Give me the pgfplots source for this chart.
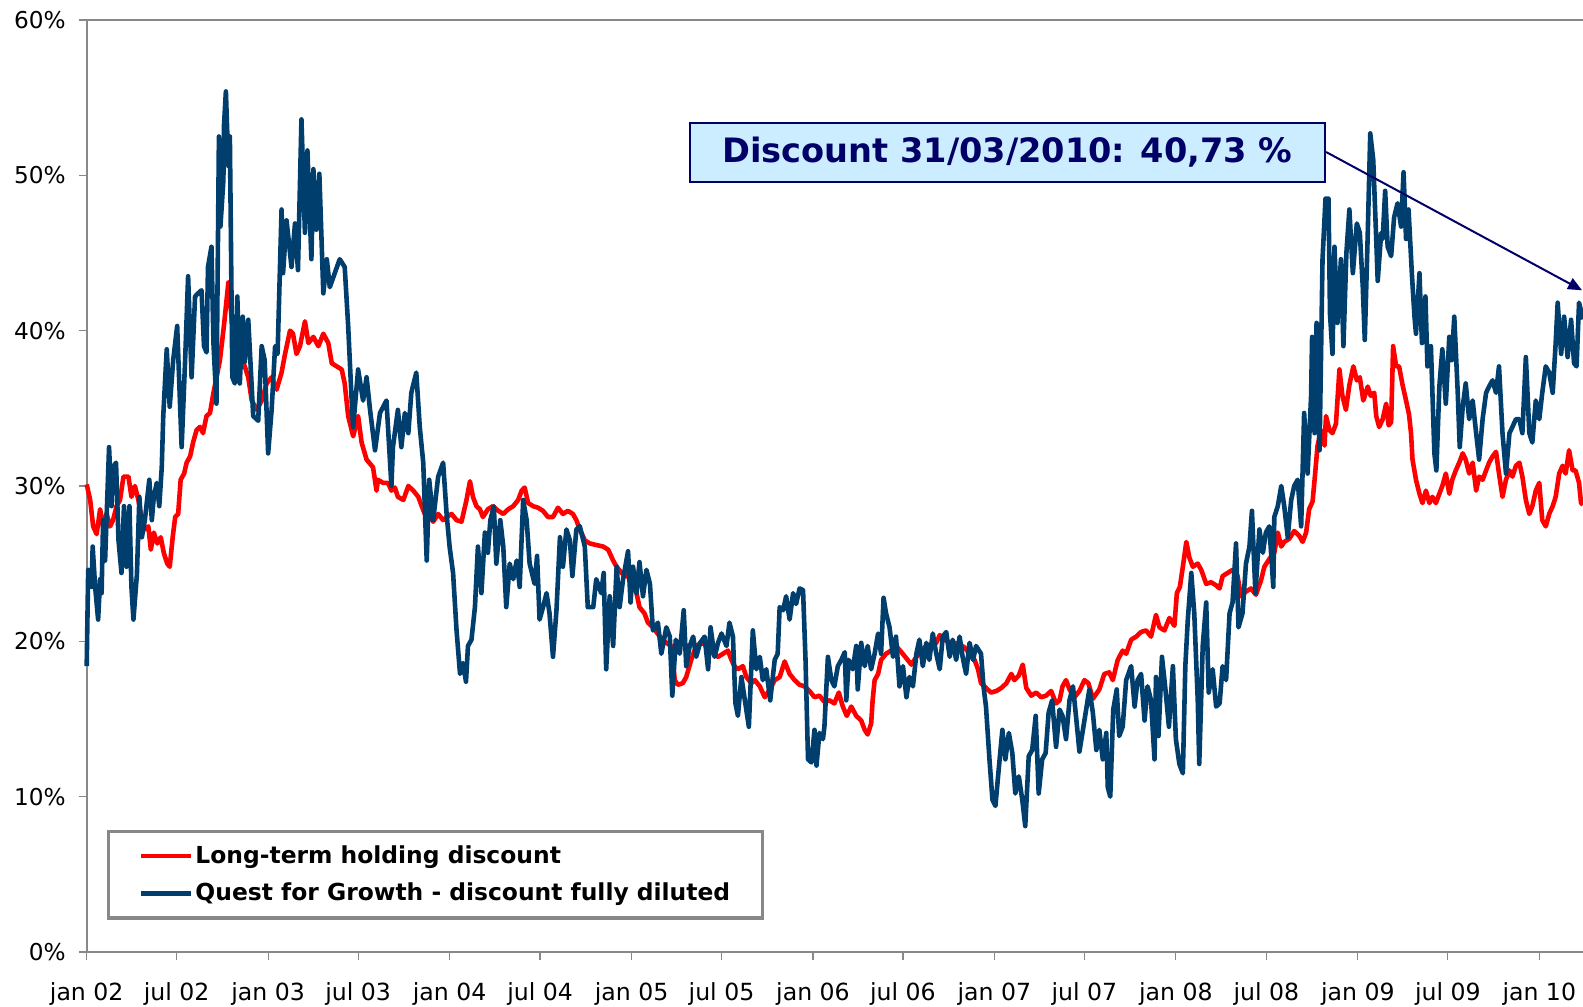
\documentclass[border=0pt]{standalone}
\usepackage{pgfplots}
\pgfplotsset{compat=1.18}
\usepackage{fontspec}
\setmainfont{DejaVu Sans}
\usetikzlibrary{arrows.meta}
\definecolor{qfgblue}{RGB}{0,62,110}
\definecolor{axgray}{RGB}{136,136,136}
\definecolor{navyann}{RGB}{0,0,102}
\definecolor{boxfill}{RGB}{204,236,255}
\begin{document}
\begin{tikzpicture}
\useasboundingbox (-43.35pt,-27.5pt) rectangle (748.2pt,476pt);
\begin{axis}[
  scale only axis, width=748.2pt, height=466pt,
  xmin=0, xmax=3010, ymin=0, ymax=60,
  axis lines=left, axis line style={-, draw=axgray, line width=1pt},
  clip=false,
  xtick={0,181,365,546,730,912,1096,1277,1461,1642,1826,2007,2191,2373,2557,2738,2922},
  xticklabels={jan 02,jul 02,jan 03,jul 03,jan 04,jul 04,jan 05,jul 05,jan 06,jul 06,jan 07,jul 07,jan 08,jul 08,jan 09,jul 09,jan 10},
  ytick={0,10,20,30,40,50,60},
  yticklabels={0\%,10\%,20\%,30\%,40\%,50\%,60\%},
  tick style={draw=axgray, line width=0.6pt},
  major tick length=4pt, tick align=outside,
  xticklabel style={font=\fontsize{11.8}{14}\selectfont, text=black, yshift=-8pt},
  yticklabel style={font=\fontsize{11.6}{14}\selectfont, text=black, xshift=-3pt},
  legend style={at={(0.01377,0.1309)}, anchor=north west, draw=axgray, line width=1.6pt,
    fill=white, font=\bfseries\fontsize{11.7}{14}\selectfont,
    inner xsep=15pt, inner ysep=6pt, row sep=6.4pt,
    nodes={inner sep=1pt}, cells={anchor=west}},
  legend image code/.code={\draw[#1] (0pt,0pt) -- (25pt,0pt);},
]
\draw[axgray, line width=1pt] (rel axis cs:0,1) -- (rel axis cs:1,1);

\addplot[red, line width=2.3pt, line join=round] coordinates {
(0,30.1)(7,29.1)(13,27.4)(20,26.9)(27,28.5)(33,27.4)(40,28.2)(47,27.4)(53,27.8)(60,28.7)(67,29.1)(74,30.6)(84,30.6)(90,29.3)(97,30.0)(104,29.1)(111,27.8)(117,27.2)(124,27.4)(129,25.9)(135,27.0)(142,26.3)(149,26.7)(155,25.7)(162,25.0)(167,24.8)(173,26.7)(178,28.0)(184,28.2)(189,30.4)(196,30.8)(201,31.5)(208,31.9)(214,32.8)(221,33.6)(228,33.8)(234,33.4)(241,34.5)(248,34.7)(255,36.0)(268,38.1)(276,40.3)(285,43.1)(292,40.7)(302,39.0)(308,38.5)(318,37.7)(325,37.0)(332,35.5)(342,34.9)(352,35.5)(362,36.6)(372,37.0)(382,36.2)(392,37.3)(399,38.5)(409,40.0)(415,39.8)(422,38.5)(429,39.0)(439,40.6)(446,39.2)(456,39.6)(466,39.0)(476,39.8)(486,39.2)(493,37.9)(503,37.7)(513,37.5)(519,36.6)(526,34.5)(536,33.2)(546,34.5)(553,32.8)(563,31.7)(576,31.2)(583,29.7)(586,30.4)(596,30.2)(606,30.2)(613,29.7)(620,29.9)(626,29.3)(637,29.1)(647,30.0)(657,29.7)(667,29.3)(674,28.7)(680,28.2)(690,28.0)(697,27.7)(707,28.2)(717,27.8)(724,28.0)(734,28.2)(744,27.8)(754,27.7)(764,29.1)(771,30.3)(777,29.3)(784,28.7)(791,28.5)(797,28.0)(807,28.5)(817,28.7)(828,28.4)(838,28.2)(848,28.5)(858,28.7)(868,29.1)(875,29.7)(881,29.9)(888,28.9)(898,28.7)(908,28.6)(918,28.4)(928,28.0)(938,28.0)(948,28.6)(958,28.2)(968,28.4)(978,28.2)(985,27.8)(992,27.2)
(1002,26.5)(1012,26.3)(1025,26.2)(1039,26.1)(1049,25.9)(1059,25.2)(1066,24.8)(1076,24.4)(1086,24.2)(1096,24.0)(1106,23.1)(1112,22.2)(1122,21.8)(1129,21.2)(1139,20.9)(1153,20.3)(1166,19.9)(1176,19.7)(1183,17.5)(1189,17.2)(1199,17.3)(1206,17.7)(1216,18.8)(1226,19.7)(1236,19.9)(1250,19.7)(1260,19.2)(1270,19.0)(1280,19.2)(1290,19.4)(1297,18.8)(1303,18.4)(1310,18.2)(1320,18.4)(1327,17.7)(1337,17.3)(1344,17.5)(1354,17.1)(1364,16.4)(1374,16.9)(1384,17.5)(1394,17.7)(1404,18.7)(1414,17.9)(1424,17.5)(1434,17.2)(1444,17.1)(1454,16.8)(1464,16.4)(1474,16.5)(1484,16.1)(1494,16.2)(1504,16.0)(1513,16.7)(1521,15.8)(1529,15.2)(1538,15.8)(1548,15.2)(1558,14.9)(1565,14.3)(1571,14.0)(1578,14.7)(1581,16.2)(1585,17.5)(1592,17.9)(1598,18.8)(1608,19.2)(1618,19.4)(1628,19.7)(1639,19.3)(1649,18.9)(1659,18.5)(1669,19.0)(1679,19.4)(1689,19.7)(1699,19.8)(1709,19.9)(1716,20.4)(1726,20.1)(1736,19.9)(1746,19.9)(1756,19.8)(1766,19.6)(1776,19.2)(1786,18.8)(1793,18.2)(1799,17.3)(1809,17.0)(1819,16.7)(1830,16.8)(1840,17.0)(1850,17.3)(1860,17.9)(1866,17.5)(1875,17.8)(1883,18.5)(1890,17.0)(1900,16.5)(1910,16.7)(1920,16.4)(1930,16.5)(1940,16.8)(1950,16.0)(1957,16.2)(1963,17.1)(1970,17.5)(1977,16.9)(1987,16.4)(1997,16.8)
(2007,17.5)(2015,17.3)(2024,16.3)(2037,16.9)(2047,17.9)(2057,18.0)(2064,17.5)(2074,18.8)(2084,19.4)(2091,19.2)(2101,20.1)(2111,20.3)(2121,20.6)(2131,20.7)(2141,20.3)(2151,21.7)(2158,20.9)(2168,20.7)(2178,21.5)(2188,21.0)(2193,23.1)(2199,23.5)(2205,24.8)(2212,26.4)(2218,25.4)(2225,24.8)(2235,25.0)(2242,24.6)(2252,23.7)(2262,23.8)(2272,23.6)(2279,23.4)(2285,24.2)(2295,24.4)(2305,24.6)(2315,24.2)(2322,22.9)(2332,23.2)(2342,23.4)(2352,23.0)(2362,23.9)(2369,24.8)(2379,25.3)(2389,25.7)(2396,27.0)(2403,26.1)(2409,26.4)(2419,26.6)(2429,27.1)(2439,26.8)(2446,26.4)(2453,27.0)(2459,28.5)(2466,29.0)(2470,30.4)(2473,31.5)(2476,32.6)(2483,33.6)(2490,32.6)(2493,34.5)(2500,33.6)(2506,33.4)(2513,34.0)(2520,37.5)(2526,35.8)(2533,34.9)(2540,36.5)(2548,37.7)(2555,36.8)(2561,37.0)(2568,35.5)(2577,36.4)(2583,35.8)(2590,36.0)(2594,34.5)(2600,33.8)(2607,34.3)(2614,35.3)(2619,33.9)(2624,34.1)(2628,39.0)(2634,37.7)(2640,37.7)(2647,36.5)(2654,35.5)(2660,34.6)(2664,33.4)(2667,31.7)(2674,30.4)(2681,29.5)(2687,28.9)(2694,29.7)(2701,28.9)(2707,29.3)(2714,28.9)(2721,29.5)(2727,30.0)(2734,30.8)(2741,29.5)(2747,30.4)(2754,31.0)(2761,31.5)(2768,32.1)(2774,31.7)(2781,30.8)(2788,31.5)(2795,29.7)(2801,30.6)(2808,30.4)(2815,31.0)(2821,31.5)(2828,31.9)(2835,32.2)(2841,30.8)(2848,29.3)(2855,30.4)(2862,31.0)(2868,30.6)(2875,31.3)(2882,31.5)(2888,30.6)(2895,29.1)(2902,28.2)(2908,28.7)(2915,29.7)(2922,30.2)(2928,27.8)(2935,27.4)(2942,28.2)(2949,28.7)(2955,29.3)(2962,30.8)(2969,31.3)(2975,30.8)(2982,32.3)(2989,31.0)(2995,31.0)(3002,30.2)(3006,28.9)(3010,28.8)
};
\addlegendentry{Long-term holding discount}

\addplot[qfgblue, line width=2.3pt, line join=round] coordinates {
(0,18.4)(3,24.6)(10,23.5)(12,26.1)(17,23.5)(23,21.4)(27,24.0)(30,23.1)(33,27.8)(37,25.2)(45,32.5)(50,28.7)(53,31.2)(59,31.5)(64,26.5)(70,24.4)(75,28.7)(80,24.8)(86,28.7)(90,23.5)(94,21.4)(101,24.3)(106,29.3)(111,26.7)(117,27.8)(126,30.4)(131,27.8)(135,29.3)(141,30.2)(146,28.7)(151,31.2)(154,34.5)
(161,38.8)(167,35.1)(174,38.1)(182,40.3)(191,32.5)(198,38.1)(204,43.5)(211,37.0)(218,42.2)(224,42.4)(231,42.6)(236,39.0)(241,38.6)(244,44.1)(251,45.4)(255,39.2)(261,35.3)(266,52.5)(269,46.7)(275,49.7)(276,53.1)(280,55.4)(285,50.6)(288,52.5)(293,37.0)(298,36.6)(303,42.2)(308,36.6)(314,40.9)(318,38.0)(325,40.7)(335,34.5)(345,34.2)(352,39.0)(358,38.1)(365,32.1)(372,34.9)(379,39.0)(384,38.5)(392,47.8)(395,43.7)(402,47.1)(412,44.1)(419,46.9)(425,43.9)(432,53.6)(439,46.3)(444,51.6)(452,44.6)(456,50.4)(462,46.5)(468,50.1)(476,42.4)(483,44.6)(489,42.8)(499,43.7)(509,44.6)(519,44.1)(526,40.3)(533,35.5)(536,33.8)(546,37.5)(556,35.5)(563,37.0)(570,34.9)(580,32.3)(590,34.7)(603,35.5)(613,30.0)
(616,32.5)(626,34.9)(633,32.5)(640,34.7)(647,33.4)(653,36.0)(663,37.3)(670,33.8)(677,31.5)(684,25.2)(689,30.4)(697,27.8)(707,30.6)(717,31.5)(724,28.2)(730,26.1)(737,24.4)(744,20.7)(751,17.9)(757,18.6)(763,17.4)(767,19.7)(774,20.1)(781,22.2)(787,26.1)(794,23.1)(801,27.0)(807,25.7)(812,27.8)(819,28.7)(824,25.0)(832,27.8)(838,26.1)(844,22.2)(851,25.0)(858,24.0)(865,25.2)(871,23.5)(878,29.1)(885,27.8)(891,25.0)(901,23.7)(906,25.5)(911,21.4)(918,22.2)(925,23.1)(931,21.8)(938,19.0)(945,22.0)(952,26.7)(958,24.8)(965,27.2)(972,26.5)(977,24.2)(985,27.2)(992,27.4)
(1002,26.1)(1008,22.2)(1019,22.2)(1025,24.0)(1035,23.1)(1040,24.4)(1045,18.2)(1052,22.9)(1059,19.7)(1066,24.8)(1072,22.2)(1079,24.0)(1089,25.8)(1094,22.5)(1099,24.8)(1106,23.1)(1112,25.1)(1119,22.9)(1126,24.6)(1133,23.7)(1139,20.7)(1149,21.2)(1156,19.2)(1166,20.9)(1173,20.3)(1178,16.5)(1185,20.1)(1193,19.2)(1201,22.0)(1206,18.4)(1213,19.7)(1220,20.3)(1226,19.0)(1234,19.9)(1243,20.3)(1250,18.2)(1255,20.9)(1263,19.0)(1270,19.9)(1277,20.5)(1287,19.7)(1293,21.2)(1300,20.3)(1305,16.0)(1310,15.2)(1317,17.7)(1324,16.2)(1332,14.5)
(1340,20.7)(1347,18.2)(1354,19.0)(1360,17.5)(1367,18.2)(1375,16.2)(1384,18.8)(1390,19.2)(1394,22.2)(1401,22.0)(1407,22.9)(1414,21.4)(1421,23.1)(1427,22.4)(1434,23.4)(1441,23.3)(1446,18.8)(1451,12.4)(1458,12.2)(1464,14.3)(1468,12.0)(1474,14.1)(1481,13.7)(1484,14.5)(1491,19.0)(1498,17.5)(1504,17.1)(1511,18.4)(1518,18.8)(1525,19.3)(1528,16.2)(1533,18.8)(1541,18.2)(1548,19.7)(1551,16.9)(1558,19.9)(1565,18.4)(1571,19.7)(1578,18.2)(1585,19.2)(1592,20.5)(1598,19.2)(1603,22.8)(1608,21.8)(1615,20.9)(1622,19.0)(1628,20.3)(1635,17.1)(1642,18.4)(1649,16.4)(1655,17.7)(1662,17.1)(1669,19.2)(1675,20.1)(1682,18.4)(1689,19.9)(1695,18.8)(1702,20.5)(1709,19.2)(1716,18.2)(1722,20.3)(1729,20.6)(1736,19.0)(1742,20.1)(1749,18.8)(1756,20.3)(1762,19.0)(1769,17.9)(1776,19.9)(1783,18.8)(1789,19.7)(1799,19.2)(1804,17.1)(1809,15.8)(1816,12.4)(1822,9.8)(1828,9.4)(1835,11.9)(1842,14.3)(1848,12.4)(1855,14.1)(1862,12.8)(1868,10.2)(1875,11.3)(1882,9.8)(1888,8.1)(1895,12.6)(1902,13.0)(1909,15.2)(1915,10.2)(1922,12.4)(1929,12.8)(1935,15.4)(1942,16.2)(1950,13.2)(1957,15.6)(1963,15.2)(1970,13.7)(1977,16.2)(1984,17.1)(1990,15.2)(1997,12.9)
(2017,16.9)(2024,15.4)(2031,13.0)(2037,14.3)(2044,12.4)(2051,14.1)(2054,10.6)(2059,10.0)(2065,15.6)(2072,16.9)(2077,13.9)(2084,14.5)(2091,17.5)(2101,18.4)(2108,15.8)(2114,17.5)(2121,17.9)(2128,14.9)(2134,17.1)(2141,16.2)(2148,12.4)(2151,17.7)(2156,13.9)(2163,19.0)(2170,16.9)(2177,14.5)(2185,18.4)(2191,13.7)(2198,12.1)(2205,11.5)(2210,18.4)(2215,21.4)(2222,24.4)(2228,21.8)(2235,16.2)(2238,12.1)(2245,19.7)(2252,22.5)(2257,16.7)(2265,18.2)(2272,15.8)(2279,16.0)(2285,18.4)(2292,17.5)(2299,21.8)(2305,22.5)(2312,26.3)(2317,20.9)(2325,21.8)(2332,25.0)(2339,26.1)(2344,28.4)(2351,23.1)(2359,27.2)(2366,25.7)(2372,27.0)(2379,27.4)(2387,23.5)(2389,28.0)(2396,28.7)(2403,30.0)(2409,28.7)(2416,26.7)(2423,29.1)(2429,30.0)(2436,30.4)(2443,27.4)(2449,34.7)(2456,30.8)(2463,35.8)
(2465,39.6)(2470,33.4)(2474,40.5)(2480,32.3)(2486,44.6)(2492,48.5)(2498,48.5)(2501,41.1)(2506,38.5)(2510,45.4)(2516,40.5)(2523,44.6)(2528,39.0)(2534,45.0)(2540,47.8)(2547,43.7)(2555,46.9)(2561,46.3)(2567,42.8)(2571,39.4)(2577,46.3)(2582,52.7)(2588,51.0)(2594,45.9)(2597,43.2)(2604,46.3)(2607,45.9)(2612,49.0)(2617,45.4)(2624,44.8)(2630,47.3)(2637,48.2)(2644,46.7)(2649,50.2)(2654,45.9)(2659,47.8)(2666,43.5)(2671,40.9)(2674,39.8)(2681,43.7)(2686,39.2)(2693,42.2)(2697,37.7)(2704,39.0)(2711,32.1)(2715,31.0)(2721,36.4)(2727,38.8)(2734,35.3)(2741,39.6)(2746,38.1)(2751,40.9)(2758,36.0)(2762,32.5)(2768,35.1)(2774,36.6)(2781,34.3)(2788,35.5)(2795,33.4)(2801,31.7)(2808,34.3)(2815,36.0)(2821,36.4)(2828,36.8)(2835,36.0)(2841,37.7)(2848,33.4)(2855,30.8)(2862,33.4)(2868,33.8)(2875,34.3)(2882,34.3)(2888,33.4)(2895,38.3)(2902,33.4)(2908,32.8)(2915,35.5)(2922,34.3)(2928,36.0)(2935,37.7)(2942,37.3)(2949,36.0)(2955,39.2)(2959,41.8)(2966,38.5)(2972,40.9)(2979,38.3)(2986,40.7)(2992,37.9)(2997,37.7)(3002,41.8)(3010,40.73)
};
\addlegendentry{Quest for Growth - discount fully diluted}

\node[draw=navyann, line width=1pt, fill=boxfill, minimum width=317.8pt, minimum height=29.5pt,
  inner sep=0pt, text=navyann, font=\bfseries\fontsize{16.8}{20}\selectfont] (ann)
  at (axis cs:1852,51.5) {Discount 31/03/2010: 40,73 \%};
\draw[navyann, line width=1pt, -{Triangle[length=7pt,width=6pt]}] (ann.east) -- (axis cs:3008,42.6);
\end{axis}
\end{tikzpicture}
\end{document}
